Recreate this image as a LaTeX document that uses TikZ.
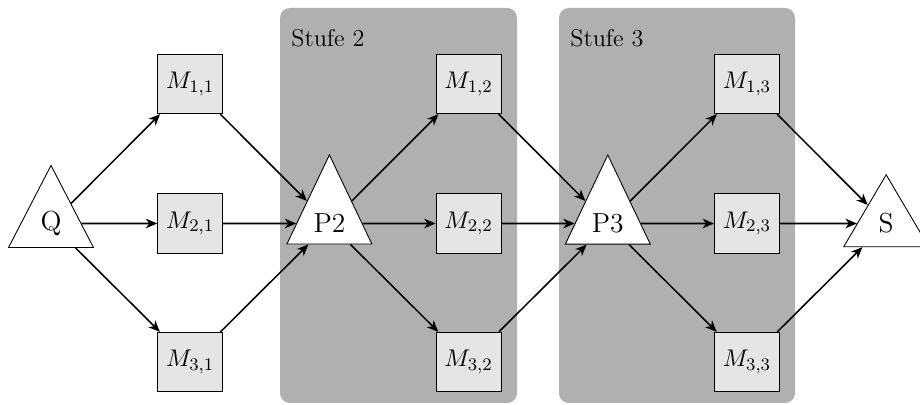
\documentclass[tikz,border=0pt]{standalone}
\usetikzlibrary{shapes.geometric,arrows.meta}
\begin{document}
\begin{tikzpicture}[x=0.4545pt,y=-0.4545pt, font=\fontsize{11}{13}\selectfont,
  mbox/.style={draw, fill=black!10, minimum width=29.6pt, minimum height=27pt, inner sep=0pt, line width=0.4pt},
  tri/.style={draw, fill=white, isosceles triangle, isosceles triangle stretches, shape border rotate=90, minimum width=38.6pt, inner sep=0pt, line width=0.4pt, font=\fontsize{12.5}{14}\selectfont},
  stage/.style={fill=black!31, rounded corners=4.5pt},
  conn/.style={-{Stealth[length=5.2pt,width=4.4pt,inset=1.6pt]}, line width=0.7pt},
  stlabel/.style={anchor=base west, inner sep=0pt}]
\useasboundingbox (0,0) rectangle (920,405);
\fill[stage] (280,8) rectangle (517,403);
\fill[stage] (559,8) rectangle (795,403);
\node[stlabel] (L2) at (291,47) {Stufe 2};
\node[stlabel] (L3) at (570,47) {Stufe 3};
\node[tri, minimum height=37.3pt] (Q) at (51,223.5) {Q};
\node[tri, minimum height=40.5pt] (P2) at (329.4,223.5) {P2};
\node[tri, minimum height=40.5pt] (P3) at (607.8,223.5) {P3};
\node[tri, minimum height=32.7pt] (S) at (886.2,223.5) {S};
\node[mbox] (M11) at (190.2,84) {$M_{1,1}$};
\node[mbox] (M21) at (190.2,223.5) {$M_{2,1}$};
\node[mbox] (M31) at (190.2,362) {$M_{3,1}$};
\node[mbox] (M12) at (468.6,84) {$M_{1,2}$};
\node[mbox] (M22) at (468.6,223.5) {$M_{2,2}$};
\node[mbox] (M32) at (468.6,362) {$M_{3,2}$};
\node[mbox] (M13) at (747,84) {$M_{1,3}$};
\node[mbox] (M23) at (747,223.5) {$M_{2,3}$};
\node[mbox] (M33) at (747,362) {$M_{3,3}$};
\foreach \i in {1,2,3}{
  \draw[conn] (Q) -- (M\i1);
  \draw[conn] (M\i1) -- (P2);
  \draw[conn] (P2) -- (M\i2);
  \draw[conn] (M\i2) -- (P3);
  \draw[conn] (P3) -- (M\i3);
  \draw[conn] (M\i3) -- (S);
}
\end{tikzpicture}
\end{document}
